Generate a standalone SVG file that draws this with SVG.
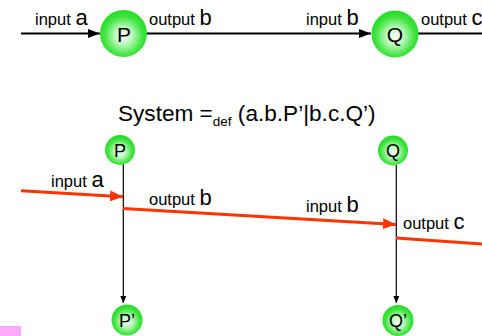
<svg xmlns="http://www.w3.org/2000/svg" width="482" height="336" viewBox="0 0 482 336">
<defs>
<radialGradient id="g" cx="0.5" cy="0.55" r="0.55">
<stop offset="0" stop-color="#ffffff"/>
<stop offset="0.35" stop-color="#b8f8b8"/>
<stop offset="0.75" stop-color="#3fe43f"/>
<stop offset="1" stop-color="#22dc22"/>
</radialGradient>
<marker id="ab" markerUnits="userSpaceOnUse" markerWidth="13" markerHeight="10" refX="12" refY="4.5" orient="auto">
<path d="M0,0 L12,4.5 L0,9 z" fill="#000"/>
</marker>
<marker id="as" markerUnits="userSpaceOnUse" markerWidth="8" markerHeight="7" refX="7" refY="3" orient="auto">
<path d="M0,0 L7,3 L0,6 z" fill="#000"/>
</marker>
<marker id="ar" markerUnits="userSpaceOnUse" markerWidth="15" markerHeight="12" refX="13" refY="5.5" orient="auto">
<path d="M0,0 L13,5.5 L0,11 z" fill="#ff3300"/>
</marker>
</defs>
<style>
text{font-family:"Liberation Sans",Arial,sans-serif;fill:#000}
.l{font-size:16.5px}
.b{font-size:22px}
.n{font-size:21px;text-anchor:middle}
.ns{font-size:18px;text-anchor:middle}
.blk{stroke:#000;stroke-width:2;fill:none}
.thin{stroke:#000;stroke-width:1.2;fill:none}
.red{stroke:#ff3300;stroke-width:3;fill:none}
.node{fill:url(#g)}
</style>
<g id="connectors">
<line class="blk" x1="21" y1="33.5" x2="100" y2="33.5" marker-end="url(#ab)"/>
<line class="blk" x1="146" y1="33.5" x2="371" y2="33.5" marker-end="url(#ab)"/>
<line class="blk" x1="418" y1="33.5" x2="482" y2="33.5"/>
<line class="thin" x1="123.3" y1="164" x2="123.3" y2="303" marker-end="url(#as)"/>
<line class="thin" x1="396.3" y1="165" x2="396.3" y2="303" marker-end="url(#as)"/>
<line class="red" x1="21" y1="190.7" x2="123" y2="196.7" marker-end="url(#ar)"/>
<line class="red" x1="123" y1="208.5" x2="396" y2="224.5" marker-end="url(#ar)"/>
<line class="red" x1="396" y1="238" x2="482" y2="244"/>
</g>
<g id="labels">
<text x="35" y="25"><tspan class="l">input </tspan><tspan class="b">a</tspan></text>
<text x="149" y="25"><tspan class="l">output </tspan><tspan class="b">b</tspan></text>
<text x="306" y="25"><tspan class="l">input </tspan><tspan class="b">b</tspan></text>
<text x="421" y="25"><tspan class="l">output </tspan><tspan class="b">c</tspan></text>
<text x="51" y="187"><tspan class="l">input </tspan><tspan class="b">a</tspan></text>
<text x="149" y="205"><tspan class="l">output </tspan><tspan class="b">b</tspan></text>
<text x="306" y="212"><tspan class="l">input </tspan><tspan class="b">b</tspan></text>
<text x="403" y="229"><tspan class="l">output </tspan><tspan class="b">c</tspan></text>
<text x="118" y="121" style="font-size:22.6px">System =<tspan style="font-size:13.5px" dy="5">def</tspan><tspan dy="-5"> (a.b.P’|b.c.Q’)</tspan></text>
</g>
<g id="P"><circle class="node" cx="123.5" cy="33.5" r="23.5"/><text class="n" x="124" y="42">P</text></g>
<g id="Q"><circle class="node" cx="395" cy="34" r="23.5"/><text class="n" x="395" y="42">Q</text></g>
<g id="P_s"><circle class="node" cx="120" cy="150" r="15"/><text class="ns" x="120" y="157">P</text></g>
<g id="Q_s"><circle class="node" cx="393" cy="150.5" r="15"/><text class="ns" x="393" y="157">Q</text></g>
<g id="P2"><circle class="node" cx="127" cy="320" r="15.5"/><text class="ns" x="127" y="327">P’</text></g>
<g id="Q2"><circle class="node" cx="398" cy="320.5" r="15.5"/><text class="ns" x="398" y="327">Q’</text></g>
<rect x="0" y="326" width="21" height="10" fill="#ffaaf8"/>
</svg>
